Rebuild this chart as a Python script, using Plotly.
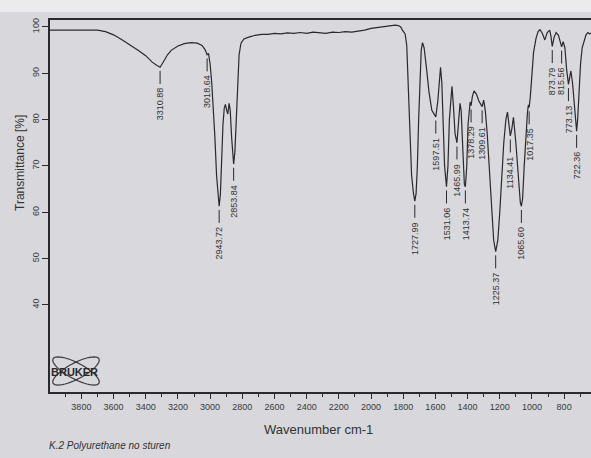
import numpy as np
import plotly.graph_objects as go

# ---- spectrum trace (wavenumber cm-1, transmittance %) ----
nh_wn = [3995, 3900, 3800, 3700, 3650, 3600, 3550, 3500, 3450, 3400, 3360, 3330,
         3290, 3265, 3240, 3200, 3160, 3120, 3080, 3050, 3030, 3010]
nh_T = [99.3, 99.3, 99.2, 99.3, 99.0, 98.3, 97.3, 96.2, 95.0, 93.8, 92.4, 91.7,
        92.5, 94.0, 95.0, 95.9, 96.4, 96.6, 96.5, 96.0, 95.0, 94.3]

ch_wn = [3000, 2990, 2980, 2970, 2960, 2950, 2936, 2928, 2920, 2912, 2905, 2897,
         2890, 2882, 2875, 2866, 2858, 2846, 2838, 2830, 2820, 2808, 2790]
ch_T = [92.0, 88.0, 83.0, 76.0, 68.0, 62.6, 64.0, 72.0, 79.0, 82.5, 83.3, 82.0,
        81.2, 83.5, 82.0, 76.0, 71.6, 73.0, 80.0, 88.0, 94.0, 96.5, 97.4]

flat_wn = [2760, 2720, 2680, 2640, 2600, 2560, 2520, 2480, 2440, 2400, 2360, 2320,
           2280, 2240, 2200, 2160, 2120, 2080, 2040, 2000, 1960, 1920, 1880, 1850,
           1830, 1815, 1805, 1795]
flat_T = [97.8, 98.2, 98.4, 98.4, 98.6, 98.5, 98.7, 98.6, 98.8, 98.6, 98.9, 98.8,
          98.6, 98.9, 98.8, 99.0, 98.9, 99.1, 99.3, 99.7, 99.9, 100.1, 100.3, 100.4,
          100.3, 100.0, 99.3, 98.8]

mid_wn = [1788, 1778, 1770, 1760, 1748, 1736, 1720, 1712, 1704, 1696,
          1688, 1680, 1670, 1655, 1640, 1622, 1585, 1575, 1568, 1560,
          1552, 1543, 1522, 1513, 1503, 1497, 1488, 1478, 1456, 1447,
          1440, 1430, 1420, 1405, 1397, 1390, 1384, 1370, 1360, 1345,
          1330, 1318, 1300]
mid_T = [98.5, 96.0, 88.0, 77.0, 68.0, 64.0, 64.0, 70.0, 80.0, 90.0,
         95.0, 96.6, 95.5, 91.0, 86.0, 82.0, 84.0, 89.0, 91.3, 88.0,
         80.0, 70.0, 70.0, 80.0, 86.0, 87.2, 83.0, 77.0, 79.0, 83.5,
         82.0, 74.0, 66.0, 70.0, 79.0, 82.5, 83.8, 85.0, 86.2, 85.5,
         84.0, 83.2, 84.2]

fp_wn = [1290, 1278, 1265, 1250, 1238, 1212, 1200, 1188, 1175, 1162,
         1152, 1143, 1125, 1115, 1100, 1085, 1072, 1058, 1048, 1038,
         1028, 1022, 1010, 1000, 990, 975, 962, 950, 935, 920,
         905, 890, 882, 862, 850, 835, 822, 806, 795, 785,
         778, 766, 758, 748, 738, 728, 716, 708, 698, 688,
         676, 664, 652, 640, 633]
fp_T = [82.0, 77.0, 70.0, 60.0, 54.0, 54.0, 60.0, 68.0, 75.0, 80.0,
        81.6, 79.0, 78.0, 80.5, 75.0, 67.0, 62.0, 63.0, 70.0, 77.0,
        81.5, 83.2, 85.0, 90.0, 94.5, 97.5, 99.0, 99.4, 98.6, 97.2,
        98.8, 99.3, 98.0, 97.8, 98.8, 98.2, 96.5, 96.8, 95.5, 91.0,
        88.5, 89.0, 90.5, 88.0, 83.0, 78.8, 80.0, 86.0, 92.0, 95.5,
        97.0, 98.3, 98.8, 98.5, 98.7]

# ---- picked peaks ----
peak_labels = ["3310.88", "3018.64", "2943.72", "2853.84", "1727.99", "1597.51",
               "1531.06", "1465.99", "1413.74", "1378.29", "1309.61", "1225.37",
               "1134.41", "1065.60", "1017.35", "873.79", "815.56", "773.13", "722.36"]
peak_T = [91.3, 94.0, 61.3, 70.4, 62.4, 80.6,
          65.5, 75.0, 65.5, 83.0, 82.8, 51.5,
          76.5, 61.3, 82.6, 95.8, 95.7, 87.6, 77.5]
peak_wn = [float(s) for s in peak_labels]

x_ticks = [3800, 3600, 3400, 3200, 3000, 2800, 2600, 2400, 2200, 2000,
           1800, 1600, 1400, 1200, 1000, 800]
y_ticks = [40, 50, 60, 70, 80, 90, 100]

wn = np.array(nh_wn + ch_wn + flat_wn + mid_wn + fp_wn + peak_wn, dtype=float)
T = np.array(nh_T + ch_T + flat_T + mid_T + fp_T + peak_T, dtype=float)
order = np.argsort(-wn)
wn, T = wn[order], T[order]

W, H = 591, 458
ML, MR, MT, MB = 50, 0, 20, 66
PW, PH = W - ML - MR, H - MT - MB


def px(x):
    return (x - ML) / PW


def py(y):
    return (H - MB - y) / PH


INK = "#2a2a2c"
FONT = "Liberation Sans"

fig = go.Figure()
fig.add_trace(go.Scatter(x=wn, y=T, mode="lines",
                         line=dict(color=INK, width=1.2),
                         hoverinfo="skip", showlegend=False))

shapes = []
annotations = []

# peak markers: short vertical tick below the band, value printed vertically
for lab, w, t in zip(peak_labels, peak_wn, peak_T):
    shapes.append(dict(type="line", xref="x", yref="y", x0=w, x1=w,
                       y0=t - 0.8, y1=t - 3.6, line=dict(color=INK, width=1)))
    annotations.append(dict(x=w, y=t - 4.0, xref="x", yref="y", text=lab,
                            textangle=-90, xanchor="center", yanchor="top",
                            showarrow=False,
                            font=dict(family=FONT, size=9, color="#333")))

# light strip along the top edge of the sheet
shapes.append(dict(type="rect", xref="paper", yref="paper", layer="below",
                   x0=px(0), x1=px(W), y0=py(12), y1=py(0),
                   fillcolor="#ebebed", line=dict(width=0)))

# Bruker atom logo
for ang in (28, -28):
    th = np.radians(ang)
    tt = np.linspace(0, 2 * np.pi, 49)
    ex = 26 * np.cos(tt)
    ey = 8 * np.sin(tt)
    xs = 76 + ex * np.cos(th) - ey * np.sin(th)
    ys = 371 + ex * np.sin(th) + ey * np.cos(th)
    path = "M " + " L ".join(f"{px(a):.4f},{py(b):.4f}" for a, b in zip(xs, ys)) + " Z"
    shapes.append(dict(type="path", xref="paper", yref="paper", path=path,
                       line=dict(color="#3a3a3c", width=1.2)))
annotations.append(dict(x=px(74), y=py(372), xref="paper", yref="paper",
                        text="<b>BRUKER</b>", showarrow=False,
                        xanchor="center", yanchor="middle",
                        font=dict(family=FONT, size=11, color="#2a2a2c")))

# axis titles and caption
annotations.append(dict(x=px(318), y=py(430), xref="paper", yref="paper",
                        text="Wavenumber cm-1", showarrow=False,
                        xanchor="center", yanchor="middle",
                        font=dict(family=FONT, size=13, color="#333")))
annotations.append(dict(x=px(20), y=py(163), xref="paper", yref="paper",
                        text="Transmittance [%]", showarrow=False, textangle=-90,
                        xanchor="center", yanchor="middle",
                        font=dict(family=FONT, size=12, color="#333")))
annotations.append(dict(x=px(47), y=py(445), xref="paper", yref="paper",
                        text="<i>K.2 Polyurethane no sturen</i>", showarrow=False,
                        xanchor="left", yanchor="middle",
                        font=dict(family=FONT, size=10, color="#333")))

fig.update_layout(
    width=W, height=H,
    margin=dict(l=ML, r=MR, t=MT, b=MB),
    paper_bgcolor="#d7d7dc",
    plot_bgcolor="#d8d8dd",
    shapes=shapes,
    annotations=annotations,
    showlegend=False,
    xaxis=dict(range=[3995, 633], tickmode="array", tickvals=x_ticks,
               ticktext=[str(v) for v in x_ticks],
               ticks="outside", ticklen=5, tickwidth=1, tickcolor=INK,
               minor=dict(tickmode="array",
                          tickvals=[v - 100 for v in x_ticks] + [3900],
                          ticks="outside", ticklen=3, tickcolor=INK),
               showline=True, linecolor=INK, linewidth=1.5, mirror=True,
               showgrid=False, zeroline=False,
               tickfont=dict(family=FONT, size=9, color="#3a3a3a")),
    yaxis=dict(range=[21.2, 101.5], tickmode="array", tickvals=y_ticks,
               ticktext=[str(v) for v in y_ticks], tickangle=-90,
               ticks="outside", ticklen=6, tickwidth=1, tickcolor=INK,
               showline=True, linecolor=INK, linewidth=1.5,
               showgrid=False, zeroline=False,
               tickfont=dict(family=FONT, size=9, color="#3a3a3a")),
)

fig.write_html("out.html")
